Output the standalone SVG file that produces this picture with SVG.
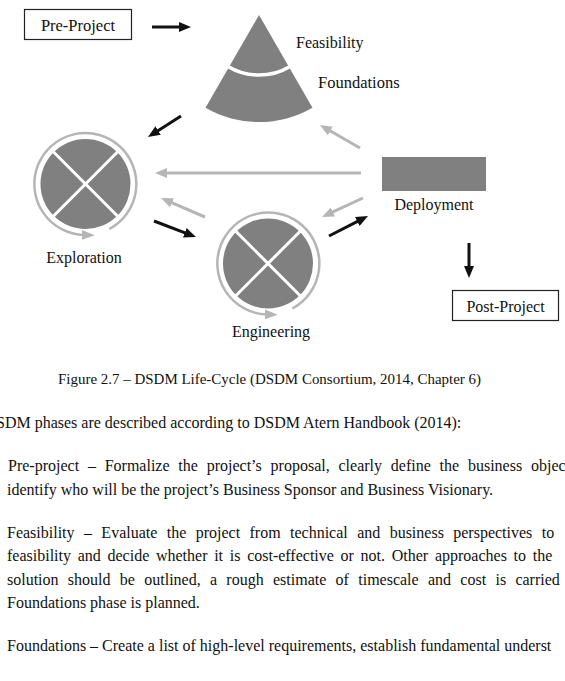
<svg xmlns="http://www.w3.org/2000/svg" width="565" height="681" viewBox="0 0 565 681">
<style>
  text { font-family: "Liberation Serif", "Times New Roman", serif; fill: #111; }
  .lbl { font-size: 16px; }
  .para { font-size: 16px; }
  .cap { font-size: 15px; }
  .box { fill: #fff; stroke: #222; stroke-width: 1.2; }
  .dark { fill: #808080; }
  .cross { stroke: #fff; stroke-width: 3; }
  .ring { fill: none; stroke: #b5b5b5; stroke-width: 2.5; }
  .blk { stroke: #111; stroke-width: 3; fill: none; marker-end: url(#hb); }
  .gry { stroke: #b5b5b5; stroke-width: 3; fill: none; marker-end: url(#hg); }
</style>
<defs>
  <marker id="hb" markerUnits="userSpaceOnUse" markerWidth="12" markerHeight="10" refX="3" refY="5" orient="auto" viewBox="0 0 12 10">
    <path d="M0,0 L12,5 L0,10 Z" fill="#111"/>
  </marker>
  <marker id="hg" markerUnits="userSpaceOnUse" markerWidth="12" markerHeight="10" refX="3" refY="5" orient="auto" viewBox="0 0 12 10">
    <path d="M0,0 L12,5 L0,10 Z" fill="#b5b5b5"/>
  </marker>
  <marker id="hr" markerUnits="userSpaceOnUse" markerWidth="13" markerHeight="10" refX="2" refY="5" orient="auto" viewBox="0 0 13 10">
    <path d="M0,0 L13,5 L0,10 Z" fill="#b5b5b5"/>
  </marker>
</defs>

<g id="pre-project">
  <rect class="box" x="24.5" y="9.5" width="107" height="30"/>
  <text class="lbl" x="78" y="31" text-anchor="middle" style="font-size:16.5px">Pre-Project</text>
</g>

<g id="feasibility-foundations">
  <path class="dark" d="M259,15 L205.5,107.7 A107,107 0 0 0 312.5,107.7 Z"/>
  <path d="M228,66.4 A60,60 0 0 0 290,66.4" fill="none" stroke="#fff" stroke-width="3.5"/>
  <text class="lbl" x="296" y="48">Feasibility</text>
  <text class="lbl" x="318" y="88" style="font-size:16.5px">Foundations</text>
</g>

<g id="exploration">
  <circle class="dark" cx="85.5" cy="184" r="45"/>
  <line class="cross" x1="53.3" y1="151.8" x2="117.7" y2="216.2"/>
  <line class="cross" x1="117.7" y1="151.8" x2="53.3" y2="216.2"/>
  <path class="ring" marker-end="url(#hr)" d="M109.4,229 A51,51 0 1 0 83.7,235"/>
  <text class="lbl" x="84" y="263" text-anchor="middle">Exploration</text>
</g>

<g id="engineering">
  <circle class="dark" cx="268" cy="263.5" r="45"/>
  <line class="cross" x1="235.8" y1="231.3" x2="300.2" y2="295.7"/>
  <line class="cross" x1="300.2" y1="231.3" x2="235.8" y2="295.7"/>
  <path class="ring" marker-end="url(#hr)" d="M292.4,308.5 A51,51 0 1 0 266.7,314.5"/>
  <text class="lbl" x="271" y="337" text-anchor="middle">Engineering</text>
</g>

<g id="deployment">
  <rect class="dark" x="382" y="157" width="104" height="34"/>
  <text class="lbl" x="434" y="210" text-anchor="middle">Deployment</text>
</g>

<g id="post-project">
  <rect class="box" x="452.5" y="290.5" width="106" height="30"/>
  <text class="lbl" x="505.5" y="312" text-anchor="middle">Post-Project</text>
</g>

<g id="connectors">
  <line class="blk" x1="152" y1="27" x2="182" y2="27"/>
  <line class="blk" x1="181" y1="116" x2="155.6" y2="132.2"/>
  <line class="blk" x1="154" y1="221" x2="187.6" y2="233.8"/>
  <line class="blk" x1="329" y1="236" x2="360" y2="220.1"/>
  <line class="blk" x1="469" y1="243" x2="469" y2="269"/>
  <line class="gry" x1="360" y1="148" x2="327.8" y2="129.5"/>
  <line class="gry" x1="361" y1="173" x2="164" y2="173"/>
  <line class="gry" x1="363" y1="198" x2="330.2" y2="213.2"/>
  <line class="gry" x1="205" y1="217" x2="169.3" y2="201.6"/>
</g>

<g id="caption">
  <text class="cap" x="58" y="384" textLength="423" lengthAdjust="spacingAndGlyphs">Figure 2.7 – DSDM Life-Cycle (DSDM Consortium, 2014, Chapter 6)</text>
</g>

<g id="body">
  <text class="para" x="-4" y="428">SDM phases are described according to DSDM Atern Handbook (2014):</text>
  <text class="para" x="8" y="471" word-spacing="4.8">Pre-project – Formalize the project’s proposal, clearly define the business objec</text>
  <text class="para" x="7" y="495">identify who will be the project’s Business Sponsor and Business Visionary.</text>
  <text class="para" x="7" y="538" word-spacing="5.4">Feasibility – Evaluate the project from technical and business perspectives to</text>
  <text class="para" x="7" y="561" word-spacing="2.7">feasibility and decide whether it is cost-effective or not. Other approaches to the</text>
  <text class="para" x="7" y="585" word-spacing="5.3">solution should be outlined, a rough estimate of timescale and cost is carried</text>
  <text class="para" x="7" y="608">Foundations phase is planned.</text>
  <text class="para" x="7" y="651">Foundations – Create a list of high-level requirements, establish fundamental underst</text>
</g>
</svg>
